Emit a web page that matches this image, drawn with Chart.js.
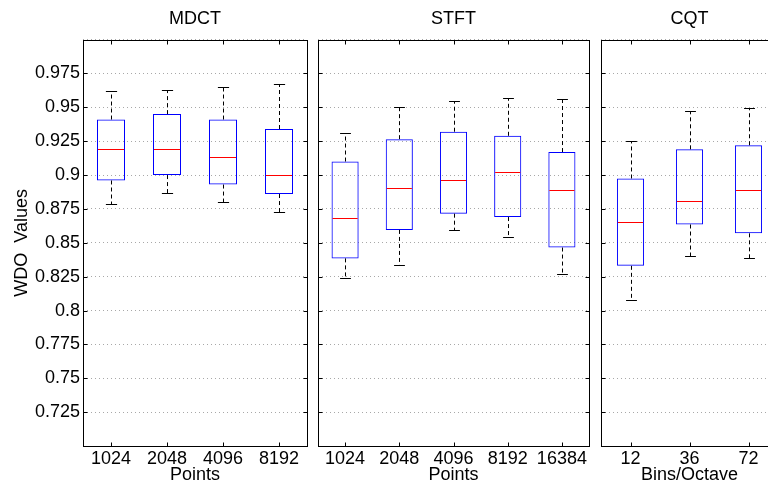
<!DOCTYPE html>
<html>
<head>
<meta charset="utf-8">
<script src="https://cdn.jsdelivr.net/npm/chart.js"></script>
<style>
  html, body { margin: 0; padding: 0; background: #fff; overflow: hidden; }
  body { width: 768px; height: 488px; position: relative; }
  canvas { position: absolute; top: 0; }
</style>
</head>
<body>
<canvas id="mdct" width="310" height="488" style="left:0px"></canvas>
<canvas id="stft" width="282" height="488" style="left:310px"></canvas>
<canvas id="cqt" width="190" height="488" style="left:592px"></canvas>
<script>
"use strict"

// values
const mdctLabels = ["1024", "2048", "4096", "8192"];
const mdctLow  = [0.879, 0.887, 0.880, 0.873];
const mdctQ1   = [0.896, 0.900, 0.893, 0.886];
const mdctMed  = [0.919, 0.919, 0.913, 0.900];
const mdctQ3   = [0.941, 0.945, 0.941, 0.934];
const mdctHigh = [0.962, 0.963, 0.965, 0.967];

const stftLabels = ["1024", "2048", "4096", "8192", "16384"];
const stftLow  = [0.824, 0.8335, 0.8595, 0.8545, 0.827];
const stftQ1   = [0.8385, 0.8595, 0.8715, 0.869, 0.8465];
const stftMed  = [0.868, 0.8905, 0.896, 0.9025, 0.889];
const stftQ3   = [0.910, 0.9265, 0.932, 0.929, 0.917];
const stftHigh = [0.931, 0.9505, 0.9545, 0.957, 0.956];

const cqtLabels = ["12", "36", "72"];
const cqtLow  = [0.8075, 0.840, 0.8385];
const cqtQ1   = [0.833, 0.8635, 0.857];
const cqtMed  = [0.8655, 0.881, 0.889];
const cqtQ3   = [0.8975, 0.919, 0.922];
const cqtHigh = [0.9255, 0.9475, 0.9495];

const yMin = 0.7;
const yMax = 1.0;
const yStep = 0.025;

const FONT = "'Liberation Sans', Arial, Helvetica, sans-serif";
Chart.defaults.font.family = FONT;
Chart.defaults.color = "#000";

// whiskers, caps, medians, frame and inward ticks
const boxParts = {
    id: "boxParts",
    afterDatasetsDraw(chart, args, opts) {
        const ctx = chart.ctx;
        const a = chart.chartArea;
        const x = chart.scales.x;
        const y = chart.scales.y;
        const meta = chart.getDatasetMeta(0);
        ctx.save();
        ctx.lineWidth = 1;
        function line(x1, y1, x2, y2) {
            ctx.beginPath();
            ctx.moveTo(x1, y1);
            ctx.lineTo(x2, y2);
            ctx.stroke();
        }
        meta.data.forEach(function (bar, i) {
            const cx = Math.round(bar.x) + 0.5;
            const half = bar.width / 2;
            const cap = bar.width * 0.2;
            const yHigh = Math.round(y.getPixelForValue(opts.high[i])) + 0.5;
            const yLow = Math.round(y.getPixelForValue(opts.low[i])) + 0.5;
            const yQ3 = y.getPixelForValue(opts.q3[i]);
            const yQ1 = y.getPixelForValue(opts.q1[i]);
            const yMed = Math.round(y.getPixelForValue(opts.med[i])) + 0.5;
            ctx.strokeStyle = "#000";
            ctx.setLineDash([4, 3]);
            line(cx, yQ3, cx, yHigh);
            line(cx, yQ1, cx, yLow);
            ctx.setLineDash([]);
            line(cx - cap, yHigh, cx + cap, yHigh);
            line(cx - cap, yLow, cx + cap, yLow);
            ctx.strokeStyle = "#ff0000";
            line(bar.x - half + 1, yMed, bar.x + half - 1, yMed);
        });
        // frame
        ctx.strokeStyle = "#000";
        const L = Math.round(a.left) + 0.5, R = Math.round(a.right) + 0.5;
        const T = Math.round(a.top) + 0.5, B = Math.round(a.bottom) + 0.5;
        ctx.strokeRect(L, T, R - L, B - T);
        // ticks pointing inward
        x.ticks.forEach(function (t, i) {
            const px = Math.round(x.getPixelForTick(i)) + 0.5;
            line(px, T, px, T + 4);
            line(px, B, px, B - 4);
        });
        y.ticks.forEach(function (t) {
            const py = Math.round(y.getPixelForValue(t.value)) + 0.5;
            line(L, py, L + 4, py);
            line(R, py, R - 4, py);
        });
        ctx.restore();
    }
};

function makePanel(id, title, xTitle, labels, low, q1, med, q3, high, showY, padL, padR, barPct) {
    const ctx = document.getElementById(id).getContext("2d");
    return new Chart(ctx, {
        type: "bar",
        data: {
            labels: labels,
            datasets: [{
                data: q1.map(function (v, i) { return [v, q3[i]]; }),
                backgroundColor: "rgba(0,0,0,0)",
                borderColor: "#0000ff",
                borderWidth: 1,
                borderSkipped: false,
                barPercentage: barPct,
                categoryPercentage: 1
            }]
        },
        options: {
            responsive: false,
            animation: false,
            layout: { padding: { left: padL, right: padR, top: 0, bottom: 0 } },
            plugins: {
                legend: { display: false },
                tooltip: { enabled: false },
                title: {
                    display: true,
                    text: title,
                    fullSize: false,
                    color: "#000",
                    font: { size: 18, weight: "normal" },
                    padding: { top: 8, bottom: 10 }
                },
                boxParts: { low: low, q1: q1, med: med, q3: q3, high: high }
            },
            scales: {
                x: {
                    grid: { display: false, drawTicks: false },
                    border: { display: false },
                    ticks: { color: "#000", font: { size: 18 }, padding: 2, maxRotation: 0, autoSkip: false },
                    title: { display: true, text: xTitle, color: "#000", font: { size: 18 }, padding: { top: 0, bottom: 2 } },
                    afterFit: function (s) { s.height = 42; }
                },
                y: {
                    min: yMin,
                    max: yMax,
                    grid: { color: "#a8a8a8", drawTicks: false },
                    border: { display: false, dash: [1, 3] },
                    ticks: {
                        display: showY,
                        stepSize: yStep,
                        padding: 3,
                        color: "#000",
                        font: { size: 18 },
                        callback: function (v) {
                            if (v < yMin + 0.001 || v > yMax - 0.001) return "";
                            return String(Number(v.toFixed(3)));
                        }
                    },
                    title: { display: showY, text: "WDO  Values", color: "#000", font: { size: 18 }, padding: { top: 11, bottom: 0 } },
                    afterFit: function (s) { s.width = showY ? 83 : 0; }
                }
            }
        },
        plugins: [boxParts]
    });
}

makePanel("mdct", "MDCT", "Points", mdctLabels, mdctLow, mdctQ1, mdctMed, mdctQ3, mdctHigh, true, 0, 3, 0.5);
makePanel("stft", "STFT", "Points", stftLabels, stftLow, stftQ1, stftMed, stftQ3, stftHigh, false, 8, 3, 0.5);
makePanel("cqt", "CQT", "Bins/Octave", cqtLabels, cqtLow, cqtQ1, cqtMed, cqtQ3, cqtHigh, false, 9, 4, 0.46);
</script>
</body>
</html>
